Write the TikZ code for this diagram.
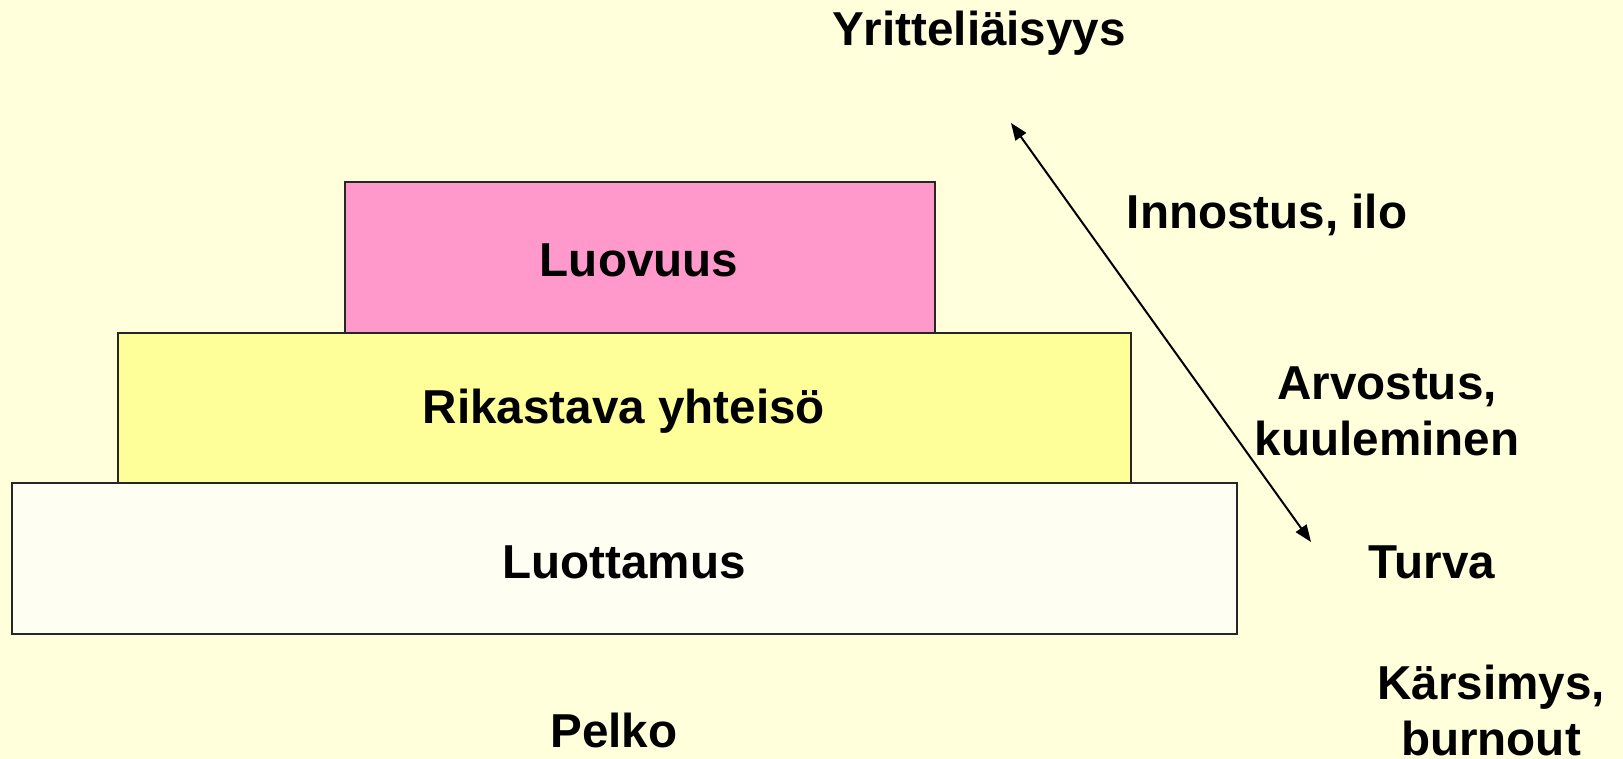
\documentclass[tikz,border=0pt]{standalone}
\usepackage{fontspec}
\setmainfont{Liberation Sans}
\usetikzlibrary{arrows.meta}
\definecolor{bg}{HTML}{FFFFDC}
\definecolor{pinkbox}{HTML}{FF99CC}
\definecolor{yellowbox}{HTML}{FFFF99}
\definecolor{whitebox}{HTML}{FFFEF2}
\begin{document}
\begin{tikzpicture}[x=1pt,y=-1pt,
  lbl/.style={font=\fontsize{47.6}{56}\selectfont\bfseries, align=center, inner sep=0pt},
  layer/.style={draw=black!85, line width=2pt, inner sep=0pt}]
\fill[bg] (0,0) rectangle (1623,759);
\useasboundingbox (0,0) rectangle (1623,759);
\draw[layer, fill=whitebox] (12,483) rectangle (1237,634);
\draw[layer, fill=yellowbox] (118,333) rectangle (1131,483);
\draw[layer, fill=pinkbox] (345,182) rectangle (935,333);
\node[lbl] (luovuus) at (639,260) {Luovuus};
\node[lbl] (rikastava) at (624,411) {Rikastava yhteisö};
\node[lbl] (luottamus) at (624,562) {Luottamus};
\node[lbl] (yrit) at (979,33) {Yritteliäisyys};
\node[lbl] (innostus) at (1267,215) {Innostus, ilo};
\node[lbl] (arvostus) at (1387,411) {Arvostus,\\kuuleminen};
\node[lbl] (turva) at (1432,562) {Turva};
\node[lbl] (kars) at (1491,710) {Kärsimys,\\burnout};
\node[lbl] (pelko) at (614,730) {Pelko};
\coordinate (atop) at (1011,123);
\coordinate (abot) at (1311,542);
\draw[line width=2pt, {Triangle[length=17pt,width=13pt]}-{Triangle[length=17pt,width=13pt]}] (atop) -- (abot);
\end{tikzpicture}
\end{document}
